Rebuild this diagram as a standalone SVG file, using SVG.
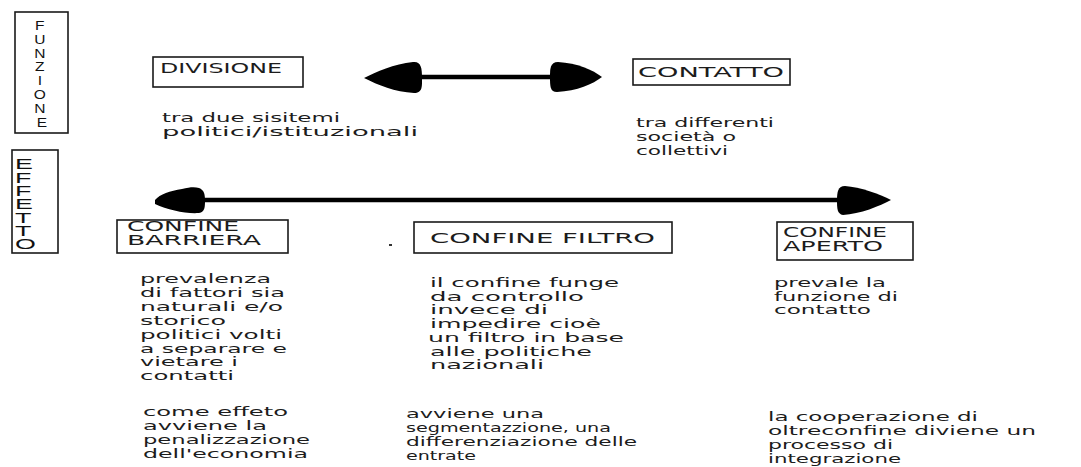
<svg xmlns="http://www.w3.org/2000/svg" width="1081" height="467" viewBox="0 0 1081 467">
  <style>
    .box { fill: #fff; stroke: #1a1a1a; stroke-width: 1.6; }
    .t { font-family: "DejaVu Sans", "Liberation Sans", sans-serif; font-size: 13px; fill: #1c1c1c; }
    .lbl { font-family: "DejaVu Sans", "Liberation Sans", sans-serif; font-size: 14px; fill: #1c1c1c; }
    .vert { font-family: "Liberation Sans", "DejaVu Sans", sans-serif; font-size: 14px; fill: #111; }
    .shaft { stroke: #000; stroke-width: 4.5; fill: none; }
    .head { fill: #000; }
  </style>
  <rect width="1081" height="467" fill="#fff"/>

  <!-- side captions -->
  <g id="funzione">
    <rect class="box" x="15" y="12" width="53" height="121"/>
    <text class="vert" text-anchor="middle" transform="translate(42 0) scale(1.15 1)" style="font-size:13.5px">
      <tspan x="0" y="30">F</tspan>
      <tspan x="0" y="43.8">U</tspan>
      <tspan x="0" y="57.6">N</tspan>
      <tspan x="0" y="71.4">Z</tspan>
      <tspan x="0" y="85.2">I</tspan>
      <tspan x="0" y="99">O</tspan>
      <tspan x="0" y="112.8">N</tspan>
      <tspan x="0" y="126.6">E</tspan>
    </text>
  </g>
  <g id="effetto">
    <rect class="box" x="12" y="150" width="46" height="103"/>
    <text class="vert" transform="translate(15 0) scale(1.85 1)" style="font-size:14.5px">
      <tspan x="0" y="169.5">E</tspan>
      <tspan x="0" y="182.8">F</tspan>
      <tspan x="0" y="196.1">F</tspan>
      <tspan x="0" y="209.4">E</tspan>
      <tspan x="0" y="222.7">T</tspan>
      <tspan x="0" y="236">T</tspan>
      <tspan x="0" y="249.5">O</tspan>
    </text>
  </g>

  <!-- top row: functions -->
  <g id="divisione">
    <rect class="box" x="153" y="57" width="150" height="30"/>
    <text class="lbl" x="160" y="73" textLength="122" lengthAdjust="spacingAndGlyphs">DIVISIONE</text>
    <text class="t" x="162" y="122" textLength="178" lengthAdjust="spacingAndGlyphs">tra due sisitemi</text>
    <text class="t" x="162" y="136" textLength="256" lengthAdjust="spacingAndGlyphs">politici/istituzionali</text>
  </g>
  <g id="contatto">
    <rect class="box" x="633" y="59" width="157" height="26"/>
    <text class="lbl" x="638" y="77" textLength="146" lengthAdjust="spacingAndGlyphs">CONTATTO</text>
    <text class="t" x="636" y="127" textLength="138" lengthAdjust="spacingAndGlyphs">tra differenti</text>
    <text class="t" x="636" y="141" textLength="100" lengthAdjust="spacingAndGlyphs">società o</text>
    <text class="t" x="636" y="155" textLength="92" lengthAdjust="spacingAndGlyphs">collettivi</text>
  </g>

  <!-- bottom row: effects -->
  <g id="confine-barriera">
    <rect class="box" x="117" y="220" width="171" height="33"/>
    <text class="lbl" x="127" y="231" textLength="112" lengthAdjust="spacingAndGlyphs">CONFINE</text>
    <text class="lbl" x="127" y="245" textLength="134" lengthAdjust="spacingAndGlyphs">BARRIERA</text>
    <text class="t" x="140" y="283" textLength="131" lengthAdjust="spacingAndGlyphs">prevalenza</text>
    <text class="t" x="140" y="296.9" textLength="145" lengthAdjust="spacingAndGlyphs">di fattori sia</text>
    <text class="t" x="140" y="310.8" textLength="143" lengthAdjust="spacingAndGlyphs">naturali e/o</text>
    <text class="t" x="140" y="324.7" textLength="86" lengthAdjust="spacingAndGlyphs">storico</text>
    <text class="t" x="140" y="338.6" textLength="142" lengthAdjust="spacingAndGlyphs">politici volti</text>
    <text class="t" x="140" y="352.5" textLength="147" lengthAdjust="spacingAndGlyphs">a separare e</text>
    <text class="t" x="140" y="366.4" textLength="98" lengthAdjust="spacingAndGlyphs">vietare i</text>
    <text class="t" x="140" y="380.3" textLength="94" lengthAdjust="spacingAndGlyphs">contatti</text>
    <text class="t" x="143" y="416" textLength="145" lengthAdjust="spacingAndGlyphs">come effeto</text>
    <text class="t" x="143" y="430" textLength="124" lengthAdjust="spacingAndGlyphs">avviene la</text>
    <text class="t" x="143" y="444" textLength="167" lengthAdjust="spacingAndGlyphs">penalizzazione</text>
    <text class="t" x="143" y="458" textLength="165" lengthAdjust="spacingAndGlyphs">dell'economia</text>
  </g>
  <g id="confine-filtro">
    <rect class="box" x="414" y="222" width="258" height="31"/>
    <text class="lbl" x="430" y="243" textLength="225" lengthAdjust="spacingAndGlyphs">CONFINE FILTRO</text>
    <text class="t" x="430" y="287" textLength="189" lengthAdjust="spacingAndGlyphs">il confine funge</text>
    <text class="t" x="430" y="300.7" textLength="154" lengthAdjust="spacingAndGlyphs">da controllo</text>
    <text class="t" x="430" y="314.4" textLength="118" lengthAdjust="spacingAndGlyphs">invece di</text>
    <text class="t" x="430" y="328.1" textLength="171" lengthAdjust="spacingAndGlyphs">impedire cioè</text>
    <text class="t" x="428" y="341.8" textLength="196" lengthAdjust="spacingAndGlyphs">un filtro in base</text>
    <text class="t" x="430" y="355.5" textLength="162" lengthAdjust="spacingAndGlyphs">alle politiche</text>
    <text class="t" x="430" y="369.2" textLength="114" lengthAdjust="spacingAndGlyphs">nazionali</text>
    <text class="t" x="406" y="418" textLength="138" lengthAdjust="spacingAndGlyphs">avviene una</text>
    <text class="t" x="406" y="432" textLength="205" lengthAdjust="spacingAndGlyphs">segmentazzione, una</text>
    <text class="t" x="406" y="446" textLength="231" lengthAdjust="spacingAndGlyphs">differenziazione delle</text>
    <text class="t" x="406" y="460" textLength="70" lengthAdjust="spacingAndGlyphs">entrate</text>
  </g>
  <g id="confine-aperto">
    <rect class="box" x="777" y="222" width="136" height="38"/>
    <text class="lbl" x="783" y="237" textLength="104" lengthAdjust="spacingAndGlyphs">CONFINE</text>
    <text class="lbl" x="783" y="251" textLength="100" lengthAdjust="spacingAndGlyphs">APERTO</text>
    <text class="t" x="774" y="287" textLength="112" lengthAdjust="spacingAndGlyphs">prevale la</text>
    <text class="t" x="774" y="300.5" textLength="124" lengthAdjust="spacingAndGlyphs">funzione di</text>
    <text class="t" x="774" y="314" textLength="97" lengthAdjust="spacingAndGlyphs">contatto</text>
    <text class="t" x="768" y="421" textLength="210" lengthAdjust="spacingAndGlyphs">la cooperazione di</text>
    <text class="t" x="768" y="435" textLength="268" lengthAdjust="spacingAndGlyphs">oltreconfine diviene un</text>
    <text class="t" x="768" y="449" textLength="125" lengthAdjust="spacingAndGlyphs">processo di</text>
    <text class="t" x="768" y="463" textLength="133" lengthAdjust="spacingAndGlyphs">integrazione</text>
  </g>

  <!-- stray mark between the boxes -->
  <rect x="389" y="244" width="3" height="2" fill="#333"/>

  <!-- connectors: hand-drawn double arrows -->
  <g id="connectors">
    <!-- division <-> contact -->
    <line class="shaft" x1="415" y1="77" x2="556" y2="77"/>
    <path class="head" d="M364,78 C376,72 394,64 413,62 C421,61 422,68 422,77 C422,86 423,93 414,93 C395,92 378,85 364,78 Z"/>
    <path class="head" d="M602,77 C593,70 577,63 558,62 C550,62 550,69 550,77 C550,86 550,92 557,92 C577,91 593,84 602,77 Z"/>
    <!-- barrier <-> open -->
    <line class="shaft" x1="198" y1="200" x2="845" y2="200"/>
    <path class="head" d="M155,200 C160,194 170,191 182,189 C190,187 195,187 199,188 C204,190 205,194 205,200 C205,207 205,212 199,213 C186,214 168,210 155,204 Z"/>
    <path class="head" d="M891,200 C880,194 860,187 845,186 C838,186 837,192 837,200 C837,208 837,214 843,215 C860,214 880,206 891,200 Z"/>
  </g>
</svg>
